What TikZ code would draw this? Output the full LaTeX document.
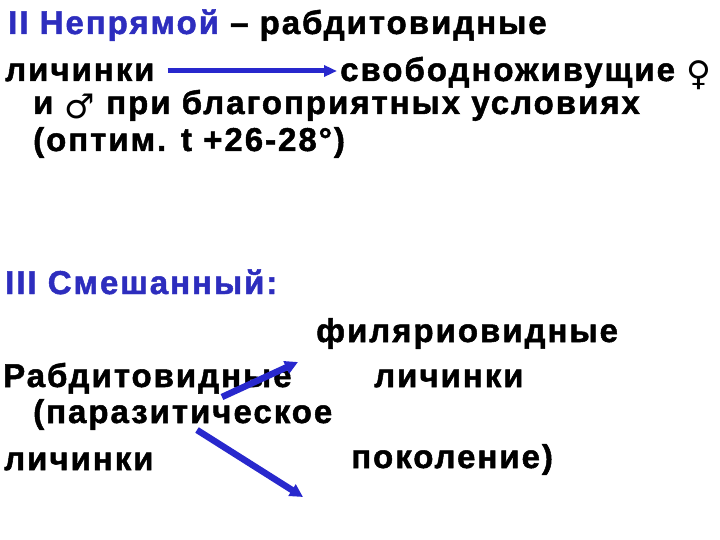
\documentclass[tikz,border=0pt]{standalone}
\usepackage{fontspec}
\setmainfont[LetterSpace=6, BoldFeatures={FakeBold=1.5}]{Liberation Sans}
\newfontfamily\signfont{DejaVu Sans}
\usetikzlibrary{positioning,arrows.meta}

\definecolor{slideblue}{RGB}{45,45,190}
\definecolor{arrowblue}{RGB}{40,40,205}

\tikzset{
    line/.style={anchor=base west, inner sep=0pt, font=\fontsize{33}{36}\selectfont\bfseries},
    longarrow/.style={-{Triangle[length=13pt, width=11pt]}, line width=5pt, arrowblue},
    slantarrow/.style={-{Triangle[length=13pt, width=13pt]}, line width=6.5pt, arrowblue}
}
\newcommand{\sexsign}[1]{\raisebox{-5pt}{\signfont\fontsize{34}{36}\selectfont #1}}

\begin{document}
\begin{tikzpicture}[x=1pt, y=-1pt]

        \useasboundingbox[fill=white] (0,0) rectangle (720,540);

        % indirect cycle
        \node[line] (indirect) at (8,34) {{\color{slideblue}II Непрямой} – рабдитовидные};
        \node[line] (larvae) at (5,81) {личинки};
        \node[line] (freeliving) at (340,81) {свободноживущие \sexsign{♀}};
        \node[line] (males) at (33,114) {и \sexsign{♂} при благоприятных условиях};
        \node[line] (optimum) at (33,151) {(оптим. t +26-28°)};

        \draw[longarrow] ([xshift=13pt, yshift=10pt]larvae.base east) -- ([xshift=-3pt, yshift=10pt]freeliving.base west);

        % mixed cycle
        \node[line, slideblue] (mixed) at (5,294) {III Смешанный:};
        \node[line] (filariform) at (316,342) {филяриовидные};
        \node[line] (rhabditiform) at (3,387) {Рабдитовидные};
        \node[line] (filarlarvae) at (374,387) {личинки};
        \node[line] (parasitic) at (33,423) {(паразитическое};
        \node[line] (rhablarvae) at (4,470) {личинки};
        \node[line] (generation) at (351,468) {поколение)};

        \coordinate (upfrom) at (222,397);
        \coordinate (upto) at (298,362);
        \coordinate (downfrom) at (197,430);
        \coordinate (downto) at (303,497);

        \draw[slantarrow] (upfrom) -- (upto);
        \draw[slantarrow] (downfrom) -- (downto);

    \end{tikzpicture}
\end{document}
